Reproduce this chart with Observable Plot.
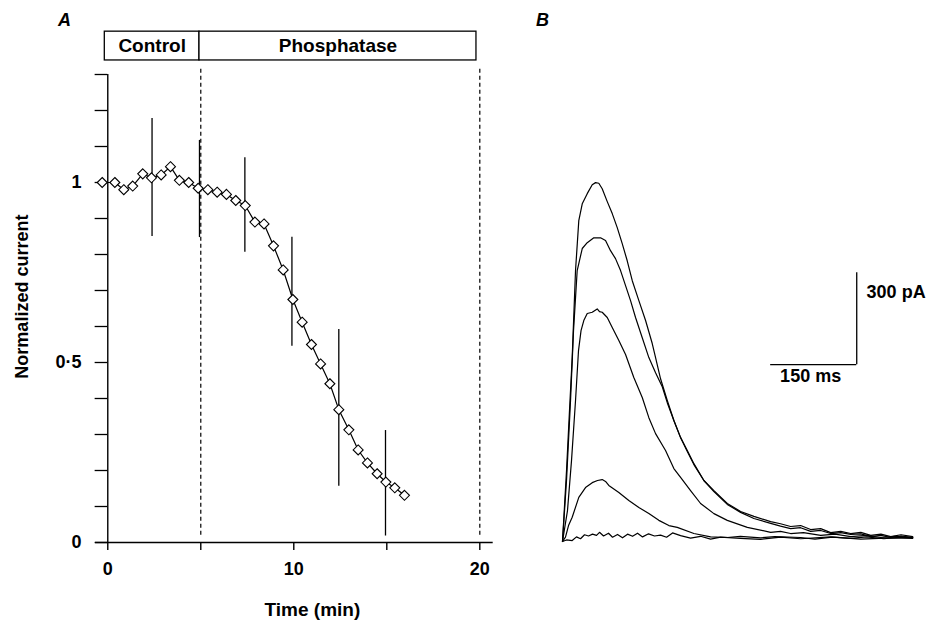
<!DOCTYPE html>
<html><head><meta charset="utf-8">
<script src="https://cdn.jsdelivr.net/npm/d3@7"></script>
<script src="https://cdn.jsdelivr.net/npm/@observablehq/plot@0.6"></script>
<style>
body{margin:0;background:#fff;}
#wrap{position:relative;width:932px;height:620px;overflow:hidden;background:#fff;}
#a{position:absolute;left:0;top:0;}
#b{position:absolute;left:540px;top:0;}
</style></head><body><div id="wrap"><div id="a"></div><div id="b"></div></div>
<script>
const FONT = "'Liberation Sans', Arial, Helvetica, sans-serif";

// ---------- Panel A data ----------
const timeMin = [-0.30, 0.38, 0.86, 1.34, 1.88, 2.35, 2.87, 3.37, 3.85, 4.35, 4.86, 5.38, 5.88, 6.38, 6.88, 7.39, 7.91, 8.40, 8.91, 9.43, 9.95, 10.45, 10.95, 11.44, 11.94, 12.42, 12.96, 13.46, 13.96, 14.48, 14.95, 15.43, 15.95];
const normCurrent = [1.00, 1.00, 0.98, 0.99, 1.024, 1.013, 1.021, 1.044, 1.006, 1.00, 0.984, 0.98, 0.973, 0.967, 0.95, 0.936, 0.89, 0.885, 0.824, 0.757, 0.675, 0.612, 0.55, 0.496, 0.441, 0.369, 0.313, 0.257, 0.221, 0.191, 0.168, 0.152, 0.131];
const errTime = [2.38, 4.93, 7.37, 9.9, 12.42, 14.93];
const errLow = [0.85, 0.847, 0.806, 0.545, 0.156, 0.018];
const errHigh = [1.178, 1.117, 1.069, 0.848, 0.592, 0.311];
const periodNames = ["Control", "Phosphatase"];
const periodStart = [-0.16, 4.93];
const periodEnd = [4.93, 19.82];
const markerTimes = [5, 20];
const xTickValues = [0, 5, 10, 15, 20];
const xTickLabels = ["0", "", "10", "", "20"];
const yTickValues = [0, 0.1, 0.2, 0.3, 0.4, 0.5, 0.6, 0.7, 0.8, 0.9, 1.0, 1.1, 1.2, 1.3];
const yTickLabels = ["0", "", "", "", "", "0·5", "", "", "", "", "1", "", "", ""];

// ---------- Panel B data (ms, pA) ----------
const trace1Time = [0, 7.0, 12.2, 16.9, 22.7, 28.4, 34.4, 43.1, 51.8, 57.6, 63.3, 69.2, 78.0, 86.7, 95.4, 104.1, 112.8, 121.6, 133.1, 144.8, 156.4, 162.2, 170.9, 182.6, 194.1, 205.8, 217.5, 229.0, 246.4, 263.9, 287.2, 310.4, 333.6, 362.8, 380.0, 397.6, 415.0, 432.5, 450.0, 467.4, 485.0, 502.3, 520.0, 537.2, 555.0, 572.0, 590.0, 610.4];
const trace1Current = [0, 231, 427, 600, 884, 1047, 1102, 1135, 1164, 1171, 1169, 1151, 1109, 1070, 1024, 972, 916, 851, 786, 721, 646, 600, 531, 460, 395, 339, 297, 254, 199, 166, 124, 98, 82, 65, 58, 49, 52, 39, 42, 29, 33, 26, 30, 20, 24, 16, 22, 16];
const trace2Time = [0, 7.0, 14.0, 19.2, 25.6, 34.4, 43.1, 54.6, 66.3, 75.0, 83.7, 92.4, 101.2, 109.9, 118.6, 127.3, 139.0, 150.5, 162.2, 173.9, 182.6, 194.1, 205.8, 217.5, 229.0, 246.4, 263.9, 287.2, 310.4, 333.6, 362.8, 380.0, 397.6, 415.0, 432.5, 450.0, 467.4, 485.0, 502.3, 520.0, 537.2, 555.0, 572.0, 590.0, 610.4];
const trace2Current = [0, 199, 460, 688, 884, 956, 975, 991, 991, 982, 949, 923, 884, 835, 786, 731, 665, 600, 551, 505, 453, 395, 339, 294, 251, 199, 163, 121, 95, 75, 59, 50, 42, 45, 33, 36, 26, 29, 23, 25, 16, 20, 13, 18, 13];
const trace3Time = [0, 8.7, 15.7, 22.7, 27.9, 32.3, 37.1, 43.1, 51.8, 60.5, 64.5, 69.2, 78.0, 86.7, 98.2, 109.9, 124.3, 139.0, 150.5, 162.2, 179.6, 194.1, 205.8, 223.2, 240.7, 263.9, 287.2, 322.1, 362.8, 380.0, 397.6, 420.0, 450.0, 475.0, 502.3, 530.0, 554.6, 580.0, 610.4];
const trace3Current = [0, 101, 264, 460, 623, 688, 721, 744, 748, 759, 750, 748, 731, 698, 656, 610, 535, 470, 404, 352, 297, 238, 209, 166, 124, 91, 69, 46, 30, 33, 26, 29, 20, 24, 16, 20, 13, 17, 13];
const trace4Time = [0, 5.2, 10.5, 16.9, 28.4, 40.1, 51.8, 61.0, 69.2, 75.0, 80.7, 98.2, 115.6, 133.1, 150.5, 167.9, 185.4, 200.0, 229.0, 258.1, 287.2, 310.0, 345.3, 370.0, 415.1, 440.0, 470.0, 502.3, 530.0, 560.0, 590.0, 610.4];
const trace4Current = [0, 14, 52, 79, 144, 176, 192, 199, 202, 196, 183, 160, 134, 111, 91, 69, 52, 46, 26, 15, 13, 17, 12, 16, 13, 8, 14, 10, 15, 9, 14, 13];
const trace5Time = [0, 7.0, 16.9, 24.4, 31.4, 38.4, 45.3, 52.3, 59.3, 64.5, 71.5, 80.2, 87.2, 95.9, 104.6, 113.4, 122.1, 130.8, 139.5, 150.0, 160.4, 170.9, 181.4, 191.8, 205.8, 223.2, 240.7, 258.1, 275.6, 310.4, 345.3, 380.2, 415.1, 467.4, 519.7, 572.0, 610.4];
const trace5Current = [0, 5, 3, 15, 9, 22, 18, 24, 20, 30, 18, 27, 14, 23, 12, 24, 17, 27, 15, 25, 18, 21, 14, 28, 19, 11, 17, 8, 14, 10, 7, 14, 9, 15, 8, 12, 10];
const scaleBarTime = [362.8, 512.8];   // 150 ms
const scaleBarCurrent = [577, 877];    // 300 pA

// ---------- Panel A ----------
const pts = timeMin.map((t, i) => ({t, v: normCurrent[i]}));
const errs = errTime.map((t, i) => ({t, lo: errLow[i], hi: errHigh[i]}));
const periods = periodNames.map((n, i) => ({n, x1: periodStart[i], x2: periodEnd[i]}));
const boxY1 = 1.339, boxY2 = 1.419;
const xt = xTickValues.map((v, i) => ({v, s: xTickLabels[i]}));
const yt = yTickValues.map((v, i) => ({v, s: yTickLabels[i]}));

const plotA = Plot.plot({
  width: 520, height: 620,
  marginLeft: 95, marginRight: 27.3, marginTop: 2, marginBottom: 78,
  x: {domain: [-0.66, 20.72], axis: null},
  y: {domain: [0, 1.5], axis: null},
  style: {background: "white", fontFamily: FONT, overflow: "visible", color: "black"},
  marks: [
    Plot.ruleY([0], {x1: -0.66, x2: 20.72, stroke: "black", strokeWidth: 1.4}),
    Plot.ruleX(xt, {x: "v", y1: 0, y2: -0.022, stroke: "black", strokeWidth: 1.4}),
    Plot.text(xt, {x: "v", y: 0, text: "s", dy: 27, fontSize: 18, fontWeight: "bold", fill: "black"}),
    Plot.ruleX([0], {y1: 0, y2: 1.3, stroke: "black", strokeWidth: 1.4}),
    Plot.ruleY(yt, {y: "v", x1: -0.68, x2: 0, stroke: "black", strokeWidth: 1.3}),
    Plot.text(yt, {x: -0.66, y: "v", text: "s", dx: -14, textAnchor: "end", fontSize: 18, fontWeight: "bold", fill: "black"}),
    Plot.text(["Time (min)"], {x: 11.0, y: -0.186, text: d => d, fontSize: 19, fontWeight: "bold", fill: "black"}),
    Plot.text(["Normalized current"], {x: -4.59, y: 0.683, text: d => d, rotate: -90, fontSize: 18, fontWeight: "bold", fill: "black"}),
    Plot.text(["A"], {x: -2.33, y: 1.45, text: d => d, fontSize: 18, fontWeight: "bold", fontStyle: "italic", fill: "black"}),
    Plot.rect(periods, {x1: "x1", x2: "x2", y1: boxY1, y2: boxY2, fill: "white", stroke: "black", strokeWidth: 1.3}),
    Plot.text(periods, {x: d => (d.x1 + d.x2) / 2, y: (boxY1 + boxY2) / 2, text: "n", fontSize: 19, fontWeight: "bold", fill: "black"}),
    Plot.ruleX(markerTimes, {y1: 0.02, y2: 1.32, stroke: "black", strokeWidth: 1.2, strokeDasharray: "4,3"}),
    Plot.ruleX(errs, {x: "t", y1: "lo", y2: "hi", stroke: "black", strokeWidth: 1.3}),
    Plot.line(pts, {x: "t", y: "v", stroke: "black", strokeWidth: 1.2}),
    Plot.dot(pts, {x: "t", y: "v", symbol: "diamond2", r: 4.5, fill: "white", stroke: "black", strokeWidth: 1.1})
  ]
});
document.getElementById("a").appendChild(plotA);

// ---------- Panel B ----------
const traceTimes = [trace1Time, trace2Time, trace3Time, trace4Time, trace5Time];
const traceCurrents = [trace1Current, trace2Current, trace3Current, trace4Current, trace5Current];
const rows = traceTimes.flatMap((ts, k) => ts.map((t, j) => ({k, t, i: traceCurrents[k][j]})));

const plotB = Plot.plot({
  width: 392, height: 620,
  marginLeft: 22, marginRight: 20, marginTop: 20, marginBottom: 79,
  x: {domain: [0, 610], axis: null},
  y: {domain: [0, 1700], axis: null},
  style: {background: "white", fontFamily: FONT, overflow: "visible", color: "black"},
  marks: [
    Plot.line(rows, {x: "t", y: "i", z: "k", stroke: "black", strokeWidth: 1.2}),
    Plot.ruleY([scaleBarCurrent[0]], {x1: scaleBarTime[0], x2: scaleBarTime[1], stroke: "black", strokeWidth: 1.3}),
    Plot.ruleX([scaleBarTime[1]], {y1: scaleBarCurrent[0], y2: scaleBarCurrent[1], stroke: "black", strokeWidth: 1.3}),
    Plot.text(["300 pA"], {x: 530, y: 812, text: d => d, textAnchor: "start", fontSize: 18, fontWeight: "bold", fill: "black"}),
    Plot.text(["150 ms"], {x: 432.5, y: 540, text: d => d, fontSize: 18, fontWeight: "bold", fill: "black"}),
    Plot.text(["B"], {x: -34.9, y: 1702, text: d => d, fontSize: 18, fontWeight: "bold", fontStyle: "italic", fill: "black"})
  ]
});
document.getElementById("b").appendChild(plotB);
</script></body></html>
